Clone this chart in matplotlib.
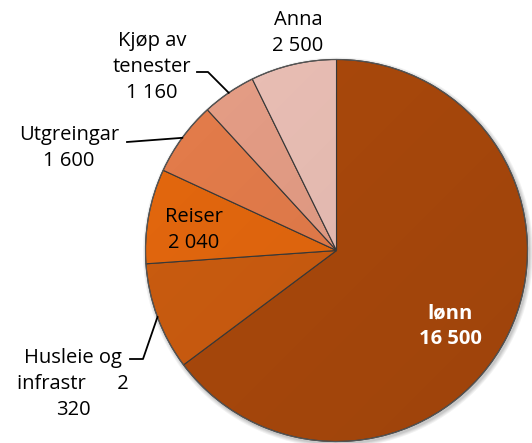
import matplotlib
matplotlib.use("Agg")
import matplotlib.pyplot as plt
import numpy as np
from matplotlib.patches import Circle

# ---- data ----
categories = ["lønn", "Husleie og infrastr", "Reiser", "Utgreingar", "Kjøp av tenester", "Anna"]
# slice sizes as drawn in the picture
slice_values = [16500, 2320, 2040, 1600, 1160, 1850]
# value labels as printed on the chart
value_labels = ["16 500", "2 320", "2 040", "1 600", "1 160", "2 500"]
label_texts = ["lønn\n16 500", "Husleie og\ninfrastr      2\n320", "Reiser\n2 040",
               "Utgreingar\n1 600", "Kjøp av\ntenester\n1 160", "Anna\n2 500"]
colors = ["#AD4A0C", "#CF5E10", "#E8690E", "#E87E4C", "#E9A088", "#EEC2B8"]

W, H = 532, 443
fig = plt.figure(figsize=(W / 100, H / 100), dpi=100)
ax = fig.add_axes([0, 0, 1, 1])
ax.set_xlim(0, W)
ax.set_ylim(0, H)
ax.set_aspect("equal")
ax.axis("off")

cx, cy, R = 336.5, H - 250.5, 191

def Y(y):
    return H - y

# soft shadow
for i, a in enumerate([0.05, 0.05, 0.06, 0.07]):
    ax.add_patch(Circle((cx + 1.5, cy - 2), R + 4 - i, color="black", alpha=a, lw=0, zorder=0))

wedges, _ = ax.pie(slice_values, colors=colors, startangle=90, counterclock=False,
                   center=(cx, cy), radius=R, frame=True,
                   wedgeprops=dict(edgecolor="#3a3a3a", linewidth=0.8))
ax.set_xlim(0, W)
ax.set_ylim(0, H)
ax.axis("off")
for w in wedges:
    w.set_zorder(1)
ax.add_patch(Circle((cx, cy), R, fill=False, edgecolor="#555555", lw=0.8, zorder=2))

# subtle shading overlay (lighter upper-left, darker lower-right)
xx, yy = np.meshgrid(np.linspace(-1, 1, 200), np.linspace(-1, 1, 200))
shade = np.clip(0.5 + 0.35 * (xx - yy) / 2, 0, 1)
rgba = np.zeros((200, 200, 4))
rgba[..., 3] = 0.10 * shade
img = ax.imshow(rgba, extent=(cx - R, cx + R, cy - R, cy + R), origin="lower", zorder=1.5,
                interpolation="bilinear")
img.set_clip_path(Circle((cx, cy), R, transform=ax.transData))
ax.set_xlim(0, W)
ax.set_ylim(0, H)

font = "Open Sans"
fs = 14.5
ls = 1.38

def edge_point(w, r=1.0):
    ang = np.deg2rad((w.theta1 + w.theta2) / 2)
    return cx + R * r * np.cos(ang), cy + R * r * np.sin(ang)

# labels
ax.text(450, Y(326), label_texts[0], ha="center", va="center", fontsize=fs, color="white",
        fontweight="bold", family=font, linespacing=ls, zorder=3)
ax.text(194, Y(230), label_texts[2], ha="center", va="center", fontsize=fs, color="black",
        family=font, linespacing=ls, zorder=3)
ax.text(73, Y(384), label_texts[1], ha="center", va="center", fontsize=fs, color="black",
        family=font, linespacing=ls, zorder=3)
ax.text(69, Y(148), label_texts[3], ha="center", va="center", fontsize=fs, color="black",
        family=font, linespacing=ls, zorder=3)
ax.text(152, Y(67), label_texts[4], ha="center", va="center", fontsize=fs, color="black",
        family=font, linespacing=ls, zorder=3)
ax.text(298, Y(33), label_texts[5], ha="center", va="center", fontsize=fs, color="black",
        family=font, linespacing=ls, zorder=3)

# leader lines
ex, ey = edge_point(wedges[4])
ax.plot([197, 208, ex], [Y(72), Y(72), ey], color="black", lw=1.3, zorder=3)
ex, ey = edge_point(wedges[3])
ax.plot([127, ex], [Y(142), ey], color="black", lw=1.3, zorder=3)
ex, ey = edge_point(wedges[1])
ax.plot([130, 143, ex], [Y(359), Y(359), ey], color="black", lw=1.3, zorder=3)

fig.savefig("out.png", dpi=100)
